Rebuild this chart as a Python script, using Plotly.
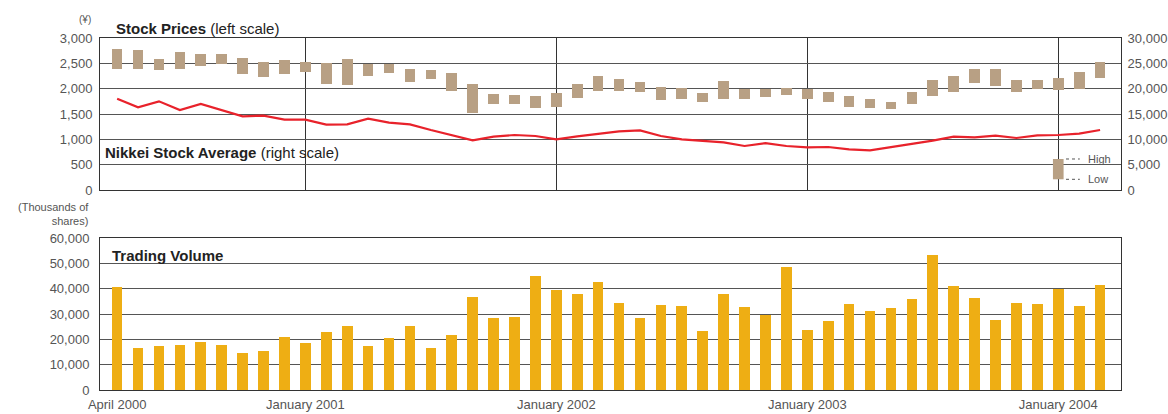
import plotly.graph_objects as go

# ---- data ----
months = list(range(48))  # April 2000 .. March 2004
price_high = [2783, 2763, 2586, 2724, 2684, 2684, 2605, 2526, 2566, 2526, 2507, 2586,
              2487, 2487, 2388, 2368, 2309, 2092, 1895, 1875, 1855, 1914, 2092, 2250,
              2191, 2132, 2033, 2013, 1914, 2151, 1993, 1993, 2013, 1993, 1934, 1855,
              1796, 1737, 1934, 2171, 2250, 2388, 2388, 2171, 2171, 2211, 2329, 2526]
price_low = [2388, 2388, 2368, 2388, 2447, 2487, 2296, 2230, 2289, 2329, 2092, 2072,
             2250, 2309, 2132, 2191, 1954, 1520, 1697, 1697, 1618, 1638, 1816, 1954,
             1954, 1934, 1776, 1796, 1737, 1796, 1796, 1836, 1875, 1796, 1737, 1638,
             1618, 1599, 1697, 1855, 1934, 2112, 2053, 1934, 1993, 1974, 1993, 2211]
nikkei = [18026, 16316, 17500, 15790, 16974, 15790, 14540, 14671, 13882, 13882, 12895, 12961,
          14079, 13290, 12961, 11842, 10790, 9803, 10526, 10855, 10658, 10000, 10592, 11118,
          11579, 11776, 10658, 10000, 9671, 9408, 8684, 9250, 8684, 8421, 8487, 8026,
          7829, 8421, 9079, 9737, 10526, 10395, 10724, 10263, 10790, 10855, 11118, 11842]
volume = [40658, 16579, 17368, 17763, 18947, 17763, 14605, 15395, 20921, 18553, 22895, 25263,
          17368, 20526, 25263, 16579, 21711, 36711, 28421, 28816, 45000, 39605, 37895, 42632,
          34342, 28421, 33553, 33158, 23289, 37895, 32763, 29605, 48553, 23684, 27237, 33947,
          31184, 32368, 35921, 53289, 41053, 36316, 27632, 34342, 33947, 39868, 33158, 41447]
year_tick_pos = [0, 9, 21, 33, 45]
year_tick_text = ["April 2000", "January 2001", "January 2002", "January 2003", "January 2004"]
left_ticks = [0, 500, 1000, 1500, 2000, 2500, 3000]
right_ticks = [0, 5000, 10000, 15000, 20000, 25000, 30000]
vol_ticks = [0, 10000, 20000, 30000, 40000, 50000, 60000]
legend_key = {"x": 45, "high": 612, "low": 211}

# ---- style ----
TAN = "#b8a084"
GOLD = "#eeae14"
RED = "#e8222b"
GRID = "#555555"
TXT = "#555555"
FONT = "Liberation Sans, Arial, sans-serif"
BW = 0.51
XR = [-0.82, 48.0]

fig = go.Figure()

fig.add_trace(go.Bar(
    x=months, y=[h - l for h, l in zip(price_high, price_low)], base=price_low,
    marker=dict(color=TAN, line=dict(width=0)), width=BW,
    xaxis="x", yaxis="y", showlegend=False, hoverinfo="skip"))

fig.add_trace(go.Scatter(
    x=months, y=nikkei, mode="lines", line=dict(color=RED, width=2.2),
    xaxis="x", yaxis="y2", showlegend=False))

fig.add_trace(go.Bar(
    x=months, y=volume, marker=dict(color=GOLD, line=dict(width=0)), width=BW,
    xaxis="x2", yaxis="y3", showlegend=False))

tickfont = dict(family=FONT, size=13, color=TXT)

fig.update_layout(
    width=1168, height=414,
    margin=dict(l=100, r=47, t=38, b=24),
    paper_bgcolor="white", plot_bgcolor="white",
    bargap=0,
    xaxis=dict(domain=[0, 1], range=XR, anchor="y", tickvals=[9, 21, 33, 45],
               showticklabels=False, showgrid=True, gridcolor="#333333", gridwidth=1,
               showline=True, linecolor="#333333", linewidth=1, mirror=True,
               zeroline=False, ticks="", automargin=False),
    yaxis=dict(domain=[0.5682, 1], range=[0, 3000], tickvals=left_ticks,
               tickformat=",d", tickfont=tickfont, showgrid=True, gridcolor=GRID,
               gridwidth=1, showline=True, linecolor="#333333", linewidth=1,
               mirror=True, zeroline=False, ticks="outside", ticklen=4,
               tickcolor="rgba(0,0,0,0)", automargin=False),
    yaxis2=dict(overlaying="y", side="right", anchor="x", range=[0, 30000],
                tickvals=right_ticks, tickformat=",d", tickfont=tickfont,
                showgrid=False, zeroline=False, showline=False, ticks="outside",
                ticklen=3, tickcolor="rgba(0,0,0,0)", automargin=False),
    xaxis2=dict(domain=[0, 1], range=XR, anchor="y3", tickvals=year_tick_pos,
                ticktext=year_tick_text, tickfont=tickfont, showgrid=False,
                showline=True, linecolor="#333333", linewidth=1, mirror=True,
                zeroline=False, ticks="outside", ticklen=2,
                tickcolor="rgba(0,0,0,0)", automargin=False),
    yaxis3=dict(domain=[0, 0.4318], range=[0, 60000], anchor="x2", tickvals=vol_ticks,
                tickformat=",d", tickfont=tickfont, showgrid=True, gridcolor=GRID,
                gridwidth=1, showline=True, linecolor="#333333", linewidth=1,
                mirror=True, zeroline=False, ticks="outside", ticklen=7,
                tickcolor="rgba(0,0,0,0)", automargin=False),
)

# ---- legend key (High / Low) ----
k = legend_key
fig.add_shape(type="rect", xref="x", yref="y", x0=k["x"] - BW / 2, x1=k["x"] + BW / 2,
              y0=k["low"], y1=k["high"], fillcolor=TAN, line=dict(width=0))
for val, lab in [(k["high"], "High"), (k["low"], "Low")]:
    fig.add_shape(type="line", xref="x", yref="y", x0=k["x"] + 0.37, x1=k["x"] + 1.03,
                  y0=val, y1=val, line=dict(color="#555555", width=1, dash="dot"))
    fig.add_annotation(xref="x", yref="y", x=k["x"] + 1.33, y=val, text=lab,
                       showarrow=False, xanchor="left", yanchor="middle",
                       font=dict(family=FONT, size=11, color=TXT))

W, H = 1021.0, 352.0
def px(x):
    return (x - 100) / W
def py(y):
    return (390 - y) / H

ann = [
    dict(x=px(85), y=py(19), text="(¥)", xanchor="center", size=10, color=TXT),
    dict(x=px(114), y=py(29), text="<b>Stock Prices</b> (left scale)", xanchor="left",
         size=15, color="#222222"),
    dict(x=px(103), y=py(152), text="<b>Nikkei Stock Average</b> (right scale)",
         xanchor="left", size=15, color="#222222"),
    dict(x=px(91), y=py(214), text="(Thousands of<br>shares)", xanchor="right",
         size=11, color=TXT, align="right"),
    dict(x=px(110), y=py(255), text="<b>Trading Volume</b>", xanchor="left",
         size=15, color="#222222"),
]
for a in ann:
    fig.add_annotation(xref="paper", yref="paper", x=a["x"], y=a["y"], text=a["text"],
                       showarrow=False, xanchor=a["xanchor"], yanchor="middle",
                       align=a.get("align", "left"),
                       font=dict(family=FONT, size=a["size"], color=a["color"]))

fig.write_html("out.html", config={"displayModeBar": False},
               post_script="document.body.style.margin='0';document.body.style.overflow='hidden';")
